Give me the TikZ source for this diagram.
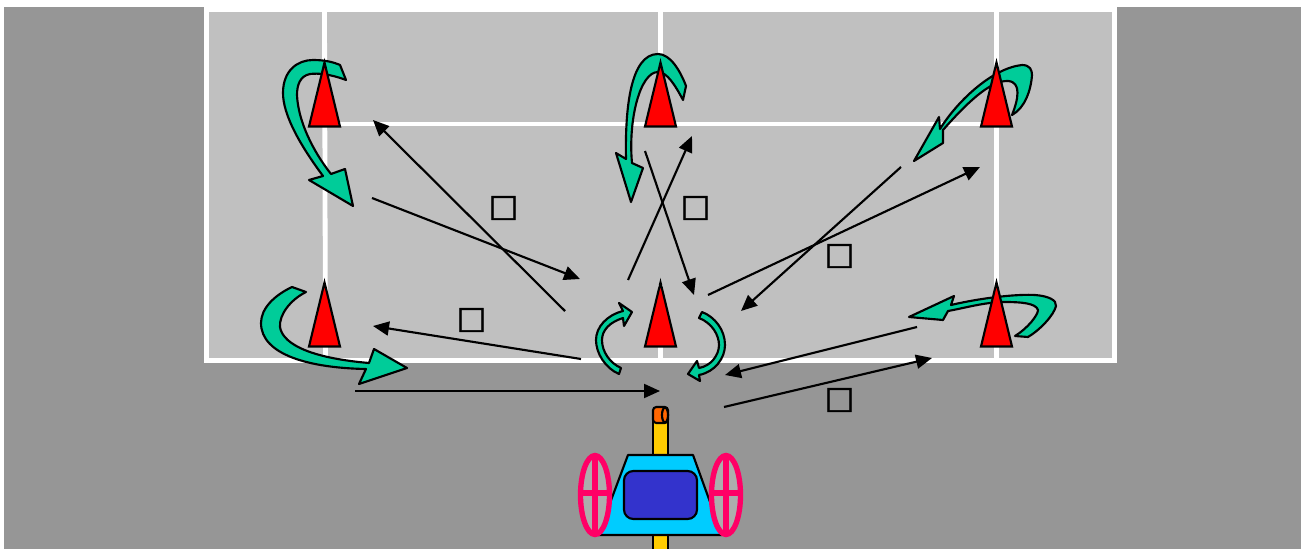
\documentclass[tikz,border=0pt]{standalone}
\usepackage{fontspec}
\setmainfont{DejaVu Sans}
\newfontfamily\markfont[FakeBold=1.6]{DejaVu Sans}
\usetikzlibrary{arrows.meta}
\tikzset{
  ln/.style={line width=1.6pt,line join=miter,miter limit=10},
  court/.style={draw=white,line width=3.6pt},
  conn/.style={ln,-{Triangle[length=12pt,width=10.5pt]}},
  cone/.style={ln,draw=black,fill=red},
  curved/.style={ln,draw=black,fill=arrowgreen,line join=round},
  mark box/.style={inner sep=0pt,font=\markfont\fontsize{23.5}{24}\selectfont},
  wheel/.style={draw=wheelpink,line width=4pt},
}
\definecolor{arrowgreen}{HTML}{00CC99}
\definecolor{wheelpink}{HTML}{FF0066}
\definecolor{ground}{HTML}{969696}
\definecolor{courtgrey}{HTML}{C0C0C0}
\definecolor{wheelgrey}{HTML}{ADADAD}
\definecolor{bar}{HTML}{FFCC00}
\definecolor{capo}{HTML}{FF6600}
\definecolor{bodyc}{HTML}{00CCFF}
\definecolor{seat}{HTML}{3333CC}
\begin{document}
\begin{tikzpicture}[x=0.75pt,y=-0.75pt]
\useasboundingbox (0,0) rectangle (1307,549);
\fill[white] (0,0) rectangle (1307,549);
\fill[ground] (4,7) rectangle (1301,549);
% court
\draw[court,fill=courtgrey] (206.5,9.5) rectangle (1114.5,360.5);
\draw[court] (324.5,9) -- (325.5,360);
\draw[court] (660.5,9) -- (660.5,124);
\draw[court] (660.5,285) -- (660.5,360);
\draw[court] (996.5,9) -- (996.5,360);
\draw[court] (324,124) -- (996,124);
% big curved arrows
\draw[curved] (340,65) -- (346,80) .. controls (330,74) and (318,73) .. (310,74) .. controls (300,76) and (297,85) .. (297,95) .. controls (298,120) and (312,150) .. (331,174) -- (345,169) -- (353,206) -- (309,180) -- (323,176) .. controls (300,145) and (283,115) .. (283,93) .. controls (283,70) and (298,60) .. (313,60) .. controls (325,60) and (333,62) .. (340,65) -- cycle;
\draw[curved] (292,287) -- (306,292) .. controls (290,300) and (279,315) .. (280,327) .. controls (282,340) and (300,357) .. (369,363) -- (374,349) -- (407,368) -- (359,384) -- (366,369) .. controls (310,368) and (261,355) .. (261,323) .. controls (261,308) and (275,295) .. (292,287) -- cycle;
\draw[curved] (686,86) -- (683,100) .. controls (675,85) and (667,72) .. (658,72) .. controls (640,72) and (628,120) .. (632,163) -- (643,168) -- (631,202) -- (616,153) -- (626,159) .. controls (625,110) and (630,54) .. (658,54) .. controls (670,54) and (680,70) .. (686,86) -- cycle;
\draw[curved] (914,161) -- (939,117) -- (940,129) .. controls (958,100) and (993,68) .. (1022,65) .. controls (1030,65) and (1032,70) .. (1032,75) .. controls (1031,90) and (1025,108) .. (1012,115) .. controls (1018,100) and (1022,82) .. (1008,81) .. controls (990,80) and (965,105) .. (943,130) -- (943,143) -- cycle;
\draw[curved] (909,317) -- (954,296) -- (951,305) .. controls (985,297) and (1020,294) .. (1035,295) .. controls (1048,296) and (1057,300) .. (1056,306) .. controls (1054,315) and (1040,330) .. (1028,337) -- (1015,336) .. controls (1028,328) and (1038,315) .. (1038,310) .. controls (1036,303) and (1020,302) .. (1005,302) .. controls (985,302) and (965,308) .. (948,311) -- (943,320) -- cycle;
\draw[curved] (621,368) -- (619,374) .. controls (605,368) and (596,353) .. (596,340) .. controls (596,327) and (607,315) .. (623,311) -- (619,303) -- (632,312) -- (624,326) -- (623,318) .. controls (610,322) and (602,330) .. (602,340) .. controls (602,352) and (610,363) .. (621,368) -- cycle;
\draw[curved] (702,312) -- (699,318) .. controls (712,323) and (719,335) .. (719,345) .. controls (719,355) and (711,366) .. (699,368) -- (697,361) -- (688,374) -- (700,381) -- (699,375) .. controls (715,372) and (725,358) .. (725,345) .. controls (725,330) and (715,317) .. (702,312) -- cycle;
% cones
\foreach \x/\y in {324.5/61,660.5/61,996.5/61,324.5/281,660.5/281,996.5/281}{
  \draw[cone] (\x,\y+1.5) -- (\x+15.5,\y+65.5) -- (\x-15.5,\y+65.5) -- cycle;
}
% connector ends
\coordinate (a1) at (372,198); \coordinate (b1) at (580,279);
\coordinate (a2) at (565,311); \coordinate (b2) at (373,120);
\coordinate (a3) at (628,280); \coordinate (b3) at (692,136);
\coordinate (a4) at (645,151); \coordinate (b4) at (694,295);
\coordinate (a5) at (708,295); \coordinate (b5) at (980,167);
\coordinate (a6) at (901,167); \coordinate (b6) at (741,311);
\coordinate (a7) at (917,327); \coordinate (b7) at (725,375);
\coordinate (a8) at (724,407); \coordinate (b8) at (932,358);
\coordinate (a9) at (581,359); \coordinate (b9) at (373,326);
\coordinate (a10) at (355,391); \coordinate (b10) at (660,391);
\foreach \i in {1,...,10} \draw[conn] (a\i) -- (b\i);
% marks
\node[mark box] (m1) at (503.5,208) {□};
\node[mark box] (m2) at (695.5,208) {□};
\node[mark box] (m3) at (839.5,256) {□};
\node[mark box] (m4) at (471.5,320) {□};
\node[mark box] (m5) at (839.5,400) {□};
% vehicle
\draw[ln,fill=bar] (653,415) rectangle (668,552);
\draw[ln,fill=capo,rounded corners=2.5pt] (653,407) rectangle (668,423);
\draw[ln,fill=capo] (665,415) ellipse [x radius=3,y radius=7.5];
\draw[ln,fill=bodyc,line join=round] (628,455) -- (693,455) -- (722,535) -- (598,535) -- cycle;
\draw[ln,fill=seat,rounded corners=7pt] (624,471) rectangle (697,519);
\foreach \c in {595,726}{
  \draw[wheel,fill=wheelgrey] (\c,495) ellipse [x radius=14.5,y radius=39.5];
  \draw[wheel] (\c,455) -- (\c,535);
  \draw[wheel] (\c-15,493) -- (\c+15,493);
}
\end{tikzpicture}
\end{document}
